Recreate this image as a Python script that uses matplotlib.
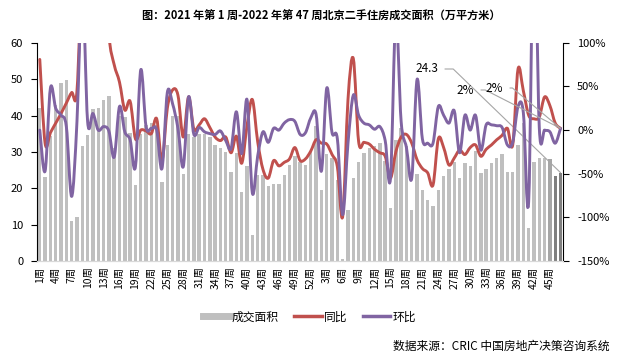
import numpy as np
import matplotlib.pyplot as plt
from matplotlib.path import Path
from matplotlib.patches import PathPatch
from matplotlib.lines import Line2D

plt.rcParams['font.family'] = ['Noto Sans CJK SC', 'DejaVu Sans']
plt.rcParams['axes.unicode_minus'] = False

# ── Data ──────────────────────────────────────────────────────────────────────
weeks_2021 = list(range(1, 53))
weeks_2022 = list(range(1, 48))
week_labels = [f"{w}周" for w in weeks_2021 + weeks_2022]

# 成交面积 (万平方米)
area = [
    42.2, 23.0, 34.5, 43.0, 48.9, 49.8, 11.1, 12.0, 31.5, 34.7,
    41.7, 42.1, 44.3, 45.4, 31.0, 40.0, 39.5, 35.2, 20.9, 35.0,
    37.5, 38.0, 37.5, 21.8, 32.0, 40.0, 40.0, 24.0, 35.0, 34.0,
    35.0, 35.0, 34.0, 32.0, 31.0, 30.0, 24.6, 29.7, 19.1, 26.0,
    7.2, 23.7, 23.7, 20.6, 21.2, 21.2, 23.7, 26.4, 28.9, 27.3,
    26.4, 30.1,
    37.0, 19.5, 29.5, 28.3, 22.3, 0.5, 14.0, 22.8, 27.3, 29.7,
    31.0, 31.5, 32.4, 27.5, 14.5, 33.3, 36.6, 31.5, 14.0, 24.0,
    19.5, 16.8, 15.2, 19.5, 23.5, 25.4, 27.3, 22.8, 26.9, 26.0,
    30.2, 24.1, 25.4, 26.9, 28.3, 29.4, 24.6, 24.6, 31.9, 37.9,
    9.1, 27.3, 28.4, 28.4, 28.0, 23.5, 24.3,
]

# 同比 (%)
yoy = [
    81, -15, -3, 8, 19, 31, 43, 45, 200, 300,
    350, 300, 220, 110, 75, 55, 23, 33, -10, 0,
    -1, -4, 13, -35, 25, 46, 40, -8, 38, 1,
    6, 13, 3, -8, -12, -8, -26, -7, -38, 5,
    35, -13, -45, -55, -35, -41, -37, -33, -20, -35,
    -33, -24,
    -11, -15, -16, -28, -42, -99, 35, 82, -13, -14,
    -16, -22, -26, -30, -55, -25, -8, -5, -15, -34,
    -44, -49, -63, -10, -20, -40, -32, -23, -28, -20,
    -17, -30, -22, -17, -11, -6, 2, -17, 70, 45,
    17, 13, 15, 38, 28, 8, 2,
]

# 环比 (%)
mom = [
    0, -47, 48, 25, 17, 4, -76, 10, 165, 10,
    19, 0, 4, -1, -31, 27, -2, -11, -42, 69,
    4, 2, 0, -44, 43, 30, 2, -42, 38, -5,
    3, -2, -4, -5, -1, -12, -21, 21, -27, 35,
    -72, -30, -2, -14, 2, 0, 8, 12, 10, -5,
    -3, 14,
    18, -47, 48, -3, -10, -97, -15, 40, 17, 8,
    6, 1, 4, -12, -55, 130, 10, -20, -55, 58,
    -10, -15, -15, 27, 17, 8, 22, -26, 17, 0,
    17, -23, 6, 6, 5, 3, -17, -14, 27, 20,
    -82, 250, 3, 0, -2, -15, 2,
]


def smooth_path(xs, ys):
    """Excel-like smoothed line: Catmull-Rom segments as cubic Beziers."""
    pts = np.column_stack([xs, ys]).astype(float)
    n = len(pts)
    verts, codes = [pts[0]], [Path.MOVETO]
    for i in range(n - 1):
        p0 = pts[max(i - 1, 0)]
        p1, p2 = pts[i], pts[i + 1]
        p3 = pts[min(i + 2, n - 1)]
        verts += [p1 + (p2 - p0) / 6, p2 - (p3 - p1) / 6, p2]
        codes += [Path.CURVE4] * 3
    return Path(verts, codes)


# ── Figure ────────────────────────────────────────────────────────────────────
fig = plt.figure(figsize=(6.4, 3.63), dpi=100)
ax = fig.add_axes([0.058, 0.281, 0.822, 0.601])
ax2 = ax.twinx()

x = np.arange(len(area))
bar_colors = ['#bfbfbf'] * (len(area) - 3) + ['#a6a6a6', '#7f7f7f', '#7f7f7f']
ax.bar(x, area, width=0.64, color=bar_colors, zorder=2)

red = '#c0504d'
purple = '#8064a2'
for series, col in [(yoy, red), (mom, purple)]:
    patch = PathPatch(smooth_path(x, series), facecolor='none', edgecolor=col,
                      lw=2.1, capstyle='round', joinstyle='round')
    ax2.add_patch(patch)

ax.set_xlim(-0.5, len(area) - 0.5)
ax.set_ylim(0, 60)
ax.set_yticks(range(0, 61, 10))
ax2.set_ylim(-150, 100)
ax2.set_yticks(range(-150, 101, 50))
ax2.set_yticklabels([f"{v}%" for v in range(-150, 101, 50)])

ax.set_xticks(x[::3])
ax.set_xticklabels(week_labels[::3], rotation=90, fontsize=7.5)
ax.tick_params(axis='x', length=0, pad=4)
ax.tick_params(axis='y', labelsize=8, length=4, color='black', pad=6)
ax2.tick_params(axis='y', labelsize=8, length=4, color='black', pad=6)

for a in (ax, ax2):
    a.spines['top'].set_visible(False)
    a.spines['bottom'].set_color('#d9d9d9')
ax.spines['right'].set_visible(False)
ax2.spines['left'].set_visible(False)

# ── Data labels with elbow leader lines ───────────────────────────────────────
def leader(angle_b):
    return dict(arrowstyle='-', color='#a6a6a6', lw=0.8, shrinkA=3, shrinkB=0,
                connectionstyle=f"angle,angleA=0,angleB={angle_b},rad=0")


ax.annotate(f"{area[-1]}", xy=(x[-1], area[-1]), xytext=(438, 294),
            textcoords='figure pixels', ha='right', va='center', fontsize=8.5,
            arrowprops=leader(-44))
ax2.annotate(f"{mom[-1]}%", xy=(x[-1], mom[-1]), xytext=(474, 273),
             textcoords='figure pixels', ha='right', va='center', fontsize=8.5,
             arrowprops=leader(-27))
ax2.annotate(f"{yoy[-1]}%", xy=(x[-1], yoy[-1]), xytext=(503, 275),
             textcoords='figure pixels', ha='right', va='center', fontsize=8.5,
             arrowprops=leader(-40))

# ── Title, legend, source ─────────────────────────────────────────────────────
fig.text(0.502, 0.955, "图：2021 年第 1 周-2022 年第 47 周北京二手住房成交面积（万平方米）",
         ha='center', va='center', fontsize=8, fontweight='bold')

handles = [Line2D([], [], color='#bfbfbf', lw=5),
           Line2D([], [], color=red, lw=2.5),
           Line2D([], [], color=purple, lw=2.5)]
fig.legend(handles, ["成交面积", "同比", "环比"], loc='center',
           bbox_to_anchor=(0.483, 0.127), ncol=3, frameon=False, fontsize=8.5,
           handlelength=2.3, columnspacing=1.3, handletextpad=0.2)

fig.text(0.953, 0.045, "数据来源：CRIC 中国房地产决策咨询系统",
         ha='right', va='center', fontsize=8.5)

fig.savefig("out.png", dpi=100)
